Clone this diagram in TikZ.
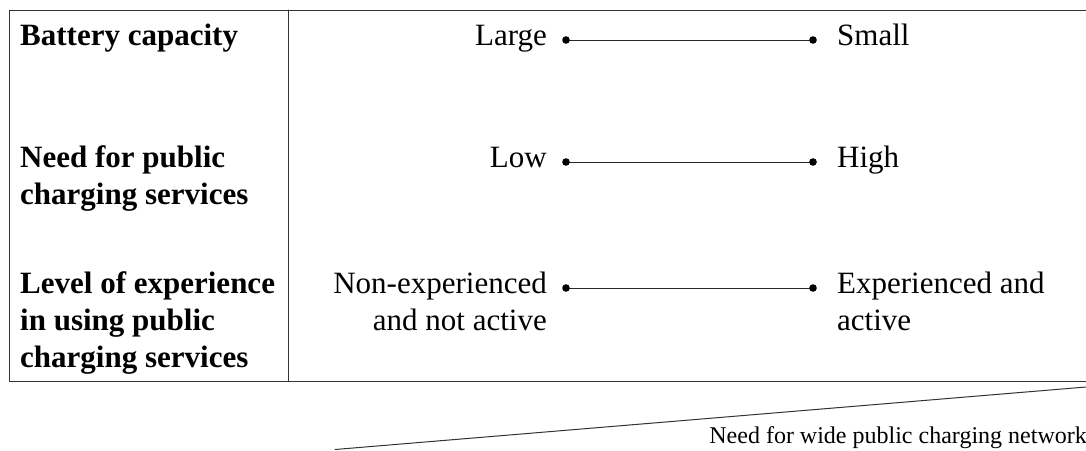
\documentclass[tikz,border=0pt]{standalone}
\usepackage{fontspec}
\setmainfont{Liberation Serif}
\tikzset{
  rowhead/.style={font=\fontsize{31}{37}\selectfont\bfseries, align=left, inner sep=0pt},
  endlbl/.style={font=\fontsize{31}{37}\selectfont, inner sep=0pt},
  frame/.style={line width=1pt, draw=black!80},
  scaleline/.style={line width=0.9pt, draw=black!85},
}
\begin{document}
\begin{tikzpicture}[x=1pt, y=-1pt, line join=round, line cap=round]
  \def\xl{9} \def\xm{288} \def\xr{1086}
  \def\yt{10} \def\yb{381}
  \useasboundingbox (0,0) rectangle (1086,450);
  % table frame
  \draw[frame] (\xr,\yt) -- (\xl,\yt) -- (\xl,\yb) -- (\xr,\yb);
  \draw[frame] (\xm,\yt) -- (\xm,\yb);
  % row heads (base = last line)
  \node[rowhead, anchor=base west] (hbat) at (20,45) {Battery capacity};
  \node[rowhead, anchor=base west] (hneed) at (20,204) {Need for public\\charging services};
  \node[rowhead, anchor=base west] (hexp) at (20,367) {Level of experience\\in using public\\charging services};
  % scale end points
  \coordinate (lbat) at (566,40);  \coordinate (rbat) at (813,40);
  \coordinate (lneed) at (566,162); \coordinate (rneed) at (813,162);
  \coordinate (lexp) at (566,288);  \coordinate (rexp) at (813,288);
  \node[endlbl, anchor=base east] (large) at (547,45) {Large};
  \node[endlbl, anchor=base west] (small) at (837,45) {Small};
  \node[endlbl, anchor=base east] (low) at (547,167) {Low};
  \node[endlbl, anchor=base west] (high) at (837,167) {High};
  \node[endlbl, anchor=base east, align=right] (nonexp) at (547,330) {Non-experienced\\and not active};
  \node[endlbl, anchor=base west, align=left] (expd) at (837,330) {Experienced and\\active};
  \foreach \a/\b in {lbat/rbat, lneed/rneed, lexp/rexp}{
    \draw[scaleline] (\a) -- (\b);
    \fill (\a) circle (3.8pt) (\b) circle (3.8pt);
  }
  % wedge
  \coordinate (wtip) at (335,449.5);
  \coordinate (wend) at (1086,387);
  \draw[frame] (wtip) -- (wend);
  \node[anchor=base east, font=\fontsize{24}{28}\selectfont, inner sep=0pt] (netcap) at (1087,443) {Need for wide public charging network};
\end{tikzpicture}
\end{document}
